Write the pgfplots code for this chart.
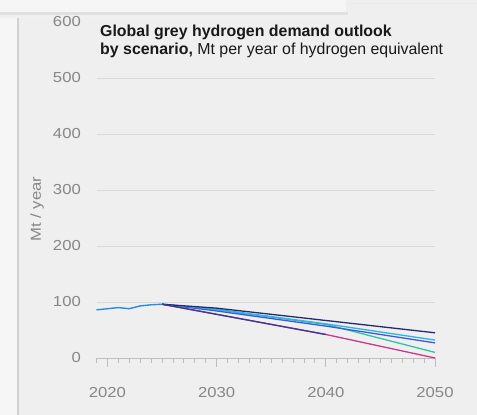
\documentclass[border=0pt]{standalone}
\usepackage{fontspec}
\setmainfont{Liberation Sans}
\newfontfamily\tickfont[FakeStretch=1.15]{Liberation Sans}
\usepackage{pgfplots}
\pgfplotsset{compat=1.18}

\definecolor{bg}{HTML}{EFEFEF}
\definecolor{panel}{HTML}{F6F6F6}
\definecolor{gridgray}{HTML}{D9D9D9}
\definecolor{axisgray}{HTML}{BDBDBD}
\definecolor{labgray}{HTML}{878787}
\definecolor{histblue}{HTML}{2B8BE0}
\definecolor{navy}{HTML}{232B6E}
\definecolor{cyanline}{HTML}{2EB3E6}
\definecolor{blueline}{HTML}{3C5AD8}
\definecolor{tealline}{HTML}{32C3A0}
\definecolor{magline}{HTML}{C23B8E}
\definecolor{purpline}{HTML}{3B3A8C}

\begin{document}
\begin{tikzpicture}
  \path[use as bounding box] (0pt,0pt) rectangle (477pt,415pt);
  % screen background
  \begin{scope}[x=1pt,y=1pt]
    \fill[bg] (0,0) rectangle (477,415);
    \fill[panel] (0,0) rectangle (17,415);
    \fill[black!18] (17,0) rectangle (19,415);
    % popup edge at the top, with its shadow
    \fill[black!6] (0,397) rectangle (350,403);
    \fill[black!12] (0,400) rectangle (348,403);
    \fill[panel] (0,403) rectangle (346,415);
    \draw[black!8] (348,412) -- (477,412);
  \end{scope}

  \begin{axis}[
    at={(96.5pt,57pt)}, anchor=south west,
    scale only axis, width=338.5pt, height=336pt,
    xmin=2019, xmax=2050, ymin=0, ymax=600,
    axis x line*=bottom, axis y line*=left,
    y axis line style={draw=none},
    x axis line style={draw=axisgray, line width=0.9pt},
    xtick={2020,2030,2040,2050},
    minor xtick={2019,2020,...,2050},
    ytick={0,100,...,500},
    extra y ticks={600},
    extra y tick style={grid=none},
    ymajorgrids,
    grid style={draw=gridgray, line width=0.8pt},
    tick align=outside,
    major tick length=9pt, minor tick length=5pt,
    xtick style={draw=axisgray, line width=0.8pt},
    ytick style={draw=none},
    /pgf/number format/1000 sep={},
    /pgf/number format/assume math mode=true,
    scaled ticks=false,
    tick label style={font=\tickfont\fontsize{14.5}{16}\selectfont, text=labgray},
    yticklabel style={inner sep=0pt, anchor=east, xshift=-6.5pt},
    xticklabel style={inner sep=0pt, anchor=center, yshift=-26pt},
    clip=false,
  ]
    % scenarios
    \addplot[tealline, line width=1.3pt] coordinates {(2025,96) (2030,86) (2040,60) (2050,10)};
    \addplot[magline, line width=1.3pt] coordinates {(2025,96) (2030,78) (2040,42) (2050,0)};
    \addplot[blueline, line width=1.3pt] coordinates {(2025,96) (2030,84) (2040,57) (2050,27)};
    \addplot[cyanline, line width=1.3pt] coordinates {(2025,96) (2030,87) (2040,61) (2050,32)};
    \addplot[navy, line width=1.3pt] coordinates {(2025,96) (2030,89) (2040,67) (2050,45)};
    \addplot[purpline, line width=1.3pt] coordinates {(2025,96) (2030,78) (2040,42)};
    % history
    \addplot[histblue, line width=1.4pt] coordinates {
      (2019,86) (2020,88) (2021,90) (2022,88) (2023,93) (2024,95) (2025,96)};
  \end{axis}

  % y-axis title
  \node[rotate=90, text=labgray, inner sep=0pt,
        font=\tickfont\fontsize{14.5}{16}\selectfont] at (37pt,206pt) {Mt / year};
  % chart title (base anchor sits on the second line)
  \node[anchor=base west, inner sep=0pt, align=left, text=black!90,
        font=\fontsize{15.9}{18}\selectfont] at (100pt,360pt)
    {\textbf{Global grey hydrogen demand outlook}\\
     \textbf{by scenario,} Mt per year of hydrogen equivalent};
\end{tikzpicture}
\end{document}
